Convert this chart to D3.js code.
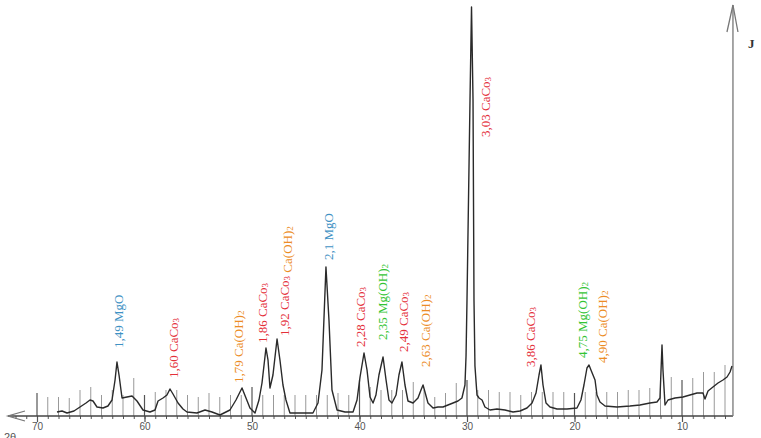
<!DOCTYPE html>
<html><head><meta charset="utf-8">
<script src="https://cdn.jsdelivr.net/npm/d3@7"></script>
<style>body{margin:0;background:#fff}svg{display:block}</style>
</head><body><svg id="c" width="761" height="438"></svg>
<script>
// ---- data (2θ in degrees, intensity in arbitrary units) ----
const twoTheta = [68.14,67.67,67.21,66.56,66.0,65.44,65.07,64.79,64.42,63.86,63.40,63.02,62.74,62.56,62.37,62.09,61.63,61.16,60.70,60.14,59.49,59.02,58.74,58.28,57.91,57.63,57.35,56.88,56.42,56.05,55.12,54.37,53.72,52.98,52.05,51.49,50.93,50.56,50.19,49.72,49.35,49.07,48.70,48.51,48.33,48.05,47.67,47.40,47.12,46.84,46.47,45.53,44.33,43.86,43.49,43.12,42.84,42.56,42.09,41.35,40.60,40.23,39.95,39.58,39.30,39.02,38.74,38.47,38.19,37.81,37.53,37.26,36.98,36.60,36.33,36.05,35.77,35.49,35.02,34.56,34.28,34.09,33.91,33.63,33.16,32.70,32.23,31.77,31.30,30.84,30.47,30.19,30.09,30.0,29.72,29.58,29.44,29.35,29.26,29.07,28.88,28.60,28.33,27.86,27.21,26.47,25.72,25.07,24.42,23.95,23.58,23.30,23.12,22.93,22.65,22.28,21.63,20.70,19.77,19.40,19.12,18.84,18.65,18.47,18.28,18.09,17.91,17.63,17.16,16.05,14.84,13.91,12.98,12.33,12.05,11.86,11.77,11.58,11.30,10.65,9.91,9.26,8.60,8.05,7.86,7.58,7.12,6.65,6.19,5.81,5.53,5.35];
const intensity = [4,5,3,5,9,13,16,15,9,8,10,16,36,54,41,18,19,20,15,6,4,6,15,18,21,27,22,13,7,4,3,6,4,1,6,16,28,18,8,3,16,33,68,56,28,41,77,56,31,16,3,3,3,13,46,149,96,26,6,4,4,16,39,63,46,19,13,21,41,59,36,16,13,21,41,54,31,15,13,18,26,31,24,13,8,9,9,11,13,15,18,31,60,116,316,409,316,116,50,21,18,16,9,6,7,6,4,5,8,13,23,41,51,31,13,9,7,7,8,16,31,48,51,46,41,36,21,14,10,9,10,11,13,14,18,71,46,11,16,18,19,21,23,23,17,25,29,33,36,39,44,50];

// reference sticks at each integer degree, stick height (same units)
const stickAngles = [70,69,68,67,66,65,64,63,62,61,60,59,58,57,56,55,54,53,52,51,50,49,48,47,46,45,44,43,42,41,40,39,38,37,36,35,34,33,32,31,30,29,28,27,26,25,24,23,22,21,20,19,18,17,16,15,14,13,12,11,10,9,8,7,6];
const stickHeights = [23,19,19,18,26,29,21,26,21,38,21,24,26,26,21,19,23,19,21,21,29,21,21,21,21,21,21,21,23,21,36,29,26,26,26,34,26,19,23,33,36,26,26,24,24,21,24,24,24,24,23,24,24,24,24,26,26,28,31,39,36,38,44,44,51];

const tickValues = [70,60,50,40,30,20,10];
const minorTicks = d3.range(72,5,-1);

// peak labels
const labelAngle = [62.47,57.35,51.30,49.07,47.02,42.93,39.95,37.91,35.95,33.91,28.33,24.14,19.30,17.44];
const labelLevel = [68,38,33,73,80,156,69,76,64,49,279,49,58,53];
const labelParts = [
  [["1,49 MgO","MgO"]],
  [["1,60 CaCo_3","CaCO3"]],
  [["1,79 Ca(OH)_2","CaOH2"]],
  [["1,86 CaCo_3","CaCO3"]],
  [["1,92 CaCo_3 ","CaCO3"],["Ca(OH)_2","CaOH2"]],
  [["2,1 MgO","MgO"]],
  [["2,28 CaCo_3","CaCO3"]],
  [["2,35 Mg(OH)_2","MgOH2"]],
  [["2,49 CaCo_3","CaCO3"]],
  [["2,63 Ca(OH)_2","CaOH2"]],
  [["3,03 CaCo_3","CaCO3"]],
  [["3,86 CaCo_3","CaCO3"]],
  [["4,75 Mg(OH)_2","MgOH2"]],
  [["4,90 Ca(OH)_2","CaOH2"]]
];
const phaseColor = {MgO:"#3f92c4", CaCO3:"#e4303a", CaOH2:"#ec8c25", MgOH2:"#34c434"};

// ---- drawing ----
const svg = d3.select("#c");
const x = d3.scaleLinear().domain([70,10]).range([37,682]);
const y = d3.scaleLinear().domain([0,411]).range([416,5]);
const axisLeftEnd = 72.7, axisRightEnd = 5.26;

// sticks
svg.append("g").selectAll("line").data(stickAngles).join("line")
  .attr("x1", d => x(d)).attr("x2", d => x(d))
  .attr("y1", y(0)).attr("y2", (d,i) => y(stickHeights[i]))
  .attr("stroke", d => d % 10 === 0 ? "#555" : "#999")
  .attr("stroke-width", d => d % 10 === 0 ? 1.2 : 1);

// minor ticks on the axis
const minor = svg.append("g").attr("transform", `translate(0,${y(0)})`)
  .call(d3.axisBottom(x).tickValues(minorTicks).tickSize(3).tickFormat(""));
minor.select(".domain").remove();
minor.selectAll("line").attr("stroke","#555");

// major ticks with labels
const major = svg.append("g").attr("transform", `translate(0,${y(0)})`)
  .call(d3.axisBottom(x).tickValues(tickValues).tickSize(6).tickPadding(1));
major.select(".domain").remove();
major.selectAll("line").attr("stroke","#555").attr("stroke-width",1.2);
major.selectAll("text").attr("font-family","Liberation Sans, Arial, sans-serif")
  .attr("font-size",10).attr("fill","#555");

// x axis line with left arrow
svg.append("line").attr("x1", x(axisLeftEnd)).attr("x2", x(axisRightEnd))
  .attr("y1", y(0)).attr("y2", y(0)).attr("stroke","#444").attr("stroke-width",1.5);
svg.append("path")
  .attr("d", `M${x(axisLeftEnd)+17},${y(0)-5} L${x(axisLeftEnd)},${y(0)} L${x(axisLeftEnd)+17},${y(0)+5}`)
  .attr("fill","none").attr("stroke","#777").attr("stroke-width",1.3);
svg.append("text").attr("x", 4).attr("y", 441).text("2θ")
  .attr("font-family","Liberation Sans, Arial, sans-serif").attr("font-size",11).attr("fill","#555");

// y axis at right with arrow
const yTop = 5;
svg.append("line").attr("x1", x(axisRightEnd)).attr("x2", x(axisRightEnd))
  .attr("y1", y(0)).attr("y2", yTop).attr("stroke","#777").attr("stroke-width",1.3);
svg.append("path")
  .attr("d", `M${x(axisRightEnd)-6},${yTop+27} L${x(axisRightEnd)},${yTop} L${x(axisRightEnd)+5},${yTop+27}`)
  .attr("fill","none").attr("stroke","#777").attr("stroke-width",1.3);
svg.append("text").attr("x", 748).attr("y", 48).text("J")
  .attr("font-family","Liberation Serif, serif").attr("font-size",13).attr("font-weight","bold").attr("fill","#333");

// pattern curve
const pts = twoTheta.map((t,i) => [t, intensity[i]]);
svg.append("path").datum(pts)
  .attr("d", d3.line().x(d => x(d[0])).y(d => y(d[1])))
  .attr("fill","none").attr("stroke","#2a2a2a").attr("stroke-width",1.4).attr("stroke-linejoin","round");

// peak labels (rotated)
labelParts.forEach((parts, i) => {
  const t = svg.append("text")
    .attr("transform", `translate(${x(labelAngle[i])},${y(labelLevel[i])}) rotate(-90)`)
    .attr("font-family","Liberation Serif, Times New Roman, serif")
    .attr("font-size",13).attr("dominant-baseline","central");
  parts.forEach(([str, phase]) => {
    const col = phaseColor[phase];
    str.split(/(_\d)/).filter(s => s.length).forEach(s => {
      if (s[0] === "_") {
        t.append("tspan").attr("fill", col).attr("font-size",9).attr("dy",3).text(s.slice(1));
        t.append("tspan").attr("dy",-3).text("");
      } else {
        t.append("tspan").attr("fill", col).text(s);
      }
    });
  });
});
</script></body></html>
